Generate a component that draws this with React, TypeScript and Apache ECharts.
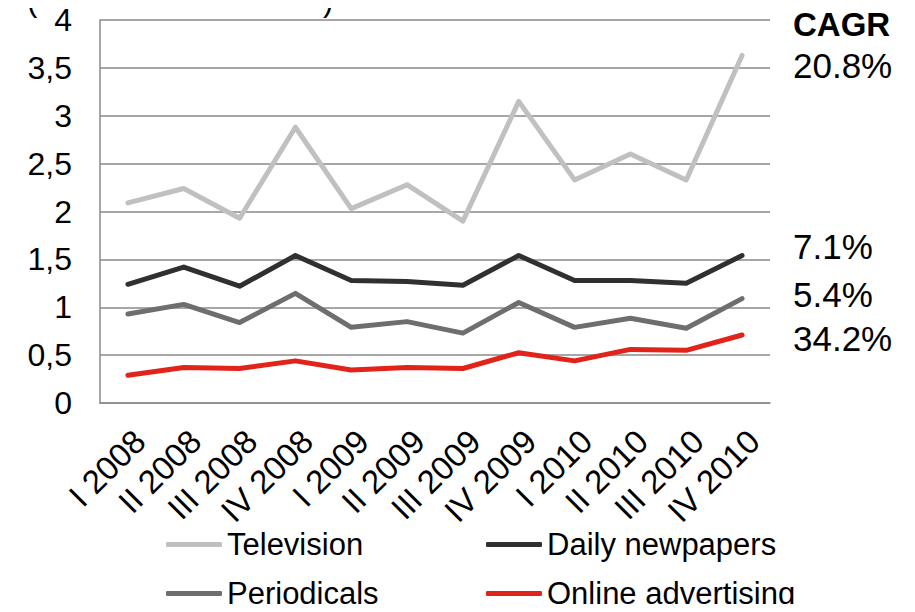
import React, { useEffect, useRef } from "react";
import * as echarts from "echarts";

const quarters = [
  "I 2008", "II 2008", "III 2008", "IV 2008",
  "I 2009", "II 2009", "III 2009", "IV 2009",
  "I 2010", "II 2010", "III 2010", "IV 2010",
];

const television = [2.09, 2.24, 1.93, 2.88, 2.03, 2.28, 1.9, 3.15, 2.33, 2.6, 2.33, 3.63];
const dailyNewspapers = [1.24, 1.42, 1.22, 1.54, 1.28, 1.27, 1.23, 1.54, 1.28, 1.28, 1.25, 1.54];
const periodicals = [0.93, 1.03, 0.84, 1.145, 0.79, 0.85, 0.73, 1.05, 0.79, 0.885, 0.78, 1.09];
const onlineAdvertising = [0.29, 0.37, 0.36, 0.44, 0.345, 0.37, 0.36, 0.525, 0.44, 0.56, 0.55, 0.71];

const seriesNames = ["Television", "Daily newpapers", "Periodicals", "Online advertising"];
const seriesColors = ["#c0c0c0", "#303030", "#6e6e6e", "#e2231a"];
const cagrLabels = ["20.8%", "7.1%", "5.4%", "34.2%"];

const FONT = "'Liberation Sans', Arial, sans-serif";

export default function App() {
  const ref = useRef<HTMLDivElement>(null);

  useEffect(() => {
    if (!ref.current) return;
    const chart = echarts.init(ref.current, null, { renderer: "svg" });
    const values = [television, dailyNewspapers, periodicals, onlineAdvertising];

    // one legend per entry so the two rows line up in columns
    const legendPos = [
      { left: 166, top: 529 },
      { left: 486, top: 529 },
      { left: 166, top: 578 },
      { left: 486, top: 578 },
    ];
    const cagrY = [65, 246, 294, 338];

    chart.setOption({
      animation: false,
      textStyle: { fontFamily: FONT },
      grid: { left: 100, right: 145, top: 20, bottom: 209 },
      xAxis: {
        type: "category",
        data: quarters,
        boundaryGap: true,
        axisLine: { lineStyle: { color: "#8a8a8a", width: 1.5 } },
        axisTick: { show: false },
        axisLabel: {
          rotate: 45,
          margin: 21,
          interval: 0,
          color: "#000",
          fontSize: 33,
          fontFamily: FONT,
          align: "right",
          verticalAlign: "top",
        },
      },
      yAxis: {
        type: "value",
        min: 0,
        max: 4,
        interval: 0.5,
        axisLine: { show: true, lineStyle: { color: "#8a8a8a", width: 1.5 } },
        axisTick: { show: false },
        splitLine: { lineStyle: { color: "#8a8a8a", width: 1.5 } },
        axisLabel: {
          color: "#000",
          fontSize: 32,
          fontFamily: FONT,
          margin: 28,
          formatter: (v: number) => String(v).replace(".", ","),
        },
      },
      legend: seriesNames.map((name, i) => ({
        data: [name],
        left: legendPos[i].left,
        top: legendPos[i].top,
        itemWidth: 56,
        itemHeight: 5,
        itemGap: 0,
        padding: 0,
        icon: "roundRect",
        textStyle: { fontSize: 31, color: "#000", fontFamily: FONT },
        selectedMode: false,
      })),
      series: seriesNames.map((name, i) => ({
        name,
        type: "line",
        data: values[i],
        symbol: "none",
        color: seriesColors[i],
        itemStyle: { color: seriesColors[i] },
        lineStyle: { width: 5, color: seriesColors[i], cap: "round", join: "round" },
      })),
      graphic: [
        { type: "text", left: 27, top: -15, style: { text: "(", fontSize: 31, fontFamily: FONT, fill: "#000" } },
        { type: "text", left: 323, top: -15, style: { text: ")", fontSize: 31, fontFamily: FONT, fill: "#000" } },
        {
          type: "text",
          x: 793,
          y: 24,
          style: {
            text: "CAGR",
            fontSize: 33,
            fontWeight: "bold",
            fontFamily: FONT,
            fill: "#000",
            verticalAlign: "middle",
          },
        },
        ...cagrLabels.map((t, i) => ({
          type: "text",
          x: 793,
          y: cagrY[i],
          style: { text: t, fontSize: 35, fontFamily: FONT, fill: "#000", verticalAlign: "middle" },
        })),
      ],
    });

    return () => chart.dispose();
  }, []);

  return <div ref={ref} style={{ width: 915, height: 612, margin: -8 }} />;
}
